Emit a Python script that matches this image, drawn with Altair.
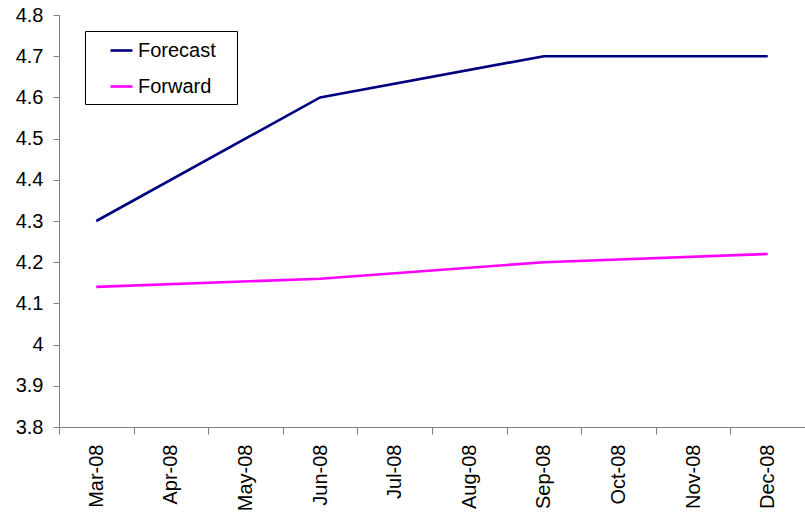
import altair as alt
import pandas as pd

# Monthly category axis and quarterly observations
months = ["Mar-08", "Apr-08", "May-08", "Jun-08", "Jul-08",
          "Aug-08", "Sep-08", "Oct-08", "Nov-08", "Dec-08"]
quarter_months = ["Mar-08", "Jun-08", "Sep-08", "Dec-08"]
forecast = [4.3, 4.6, 4.7, 4.7]
forward = [4.14, 4.16, 4.2, 4.22]
series_names = ["Forecast", "Forward"]
series_colors = ["#000080", "#FF00FF"]
y_ticks = [3.8, 3.9, 4.0, 4.1, 4.2, 4.3, 4.4, 4.5, 4.6, 4.7, 4.8]

df = pd.concat([
    pd.DataFrame({"month": quarter_months, "value": forecast, "series": "Forecast"}),
    pd.DataFrame({"month": quarter_months, "value": forward, "series": "Forward"}),
])

FONT = "Liberation Sans"
AXIS_GREY = "#808080"

chart = alt.Chart(df).mark_line(strokeWidth=2.6).encode(
    x=alt.X(
        "month:N",
        bandPosition=0.5,
        sort=months,
        scale=alt.Scale(type="band", domain=months, paddingInner=0, paddingOuter=0),
        axis=alt.Axis(
            title=None,
            tickBand="extent",
            labelAngle=270,
            labelAlign="right",
            labelBaseline="middle",
            labelFont=FONT,
            labelFontSize=20,
            labelColor="black",
            labelPadding=10,
            tickSize=7,
            tickColor=AXIS_GREY,
            domainColor=AXIS_GREY,
            grid=False,
        ),
    ),
    y=alt.Y(
        "value:Q",
        scale=alt.Scale(domain=[3.8, 4.8], nice=False, zero=False),
        axis=alt.Axis(
            title=None,
            values=y_ticks,
            format="~g",
            labelFont=FONT,
            labelFontSize=20,
            labelColor="black",
            labelPadding=10,
            tickSize=6,
            tickColor=AXIS_GREY,
            domainColor=AXIS_GREY,
            grid=False,
        ),
    ),
    color=alt.Color(
        "series:N",
        scale=alt.Scale(domain=series_names, range=series_colors),
        legend=alt.Legend(
            title=None,
            orient="none",
            legendX=26,
            legendY=16,
            strokeColor="black",
            fillColor="white",
            padding=7,
            symbolType="stroke",
            symbolSize=484,
            symbolStrokeWidth=2.6,
            symbolOffset=17,
            labelFont=FONT,
            labelFontSize=20,
            labelColor="black",
            labelOffset=4,
            rowPadding=13,
            # trailing gap keeps the box wider than its text
            labelExpr="datum.label + '\u2002\u2009\u200b'",
        ),
    ),
).properties(
    width=746,
    height=412,
    autosize=alt.AutoSizeParams(type="none"),
    padding={"left": 59, "top": 15, "right": 0, "bottom": 85},
    background="white",
).configure_view(stroke=None)

chart.save("out.html", embed_options={"renderer": "svg", "actions": False})
